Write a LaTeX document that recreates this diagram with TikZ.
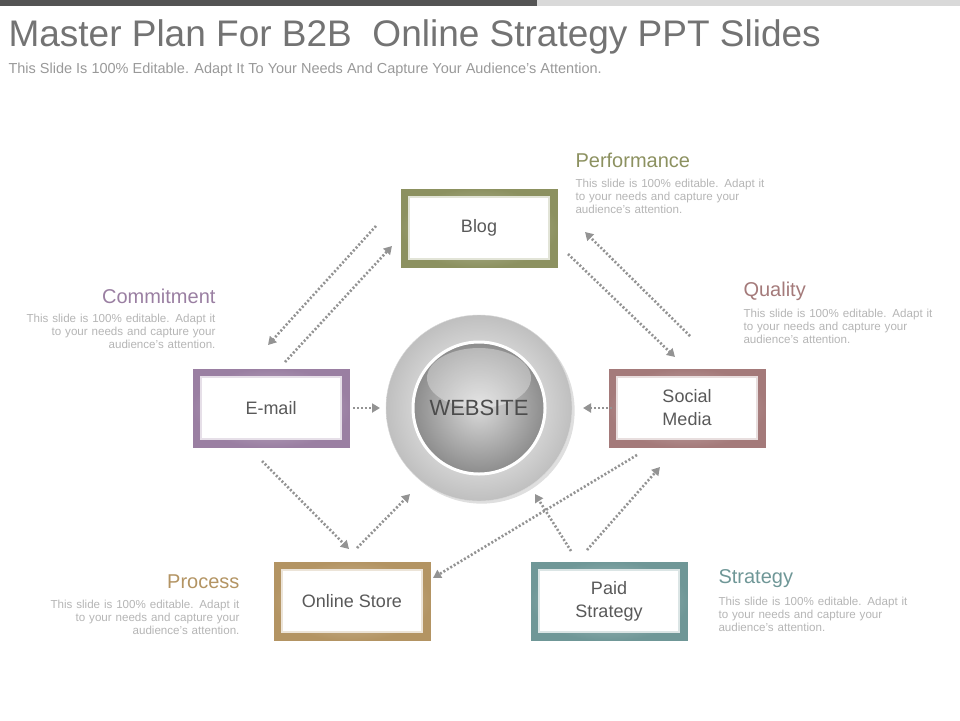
\documentclass[tikz,border=0pt]{standalone}
\usepackage{fontspec}
\setmainfont{Liberation Sans}
\usetikzlibrary{arrows.meta,shadings,shadows}
\definecolor{cBlog}{HTML}{8C9160}
\definecolor{cMail}{HTML}{9A7FA2}
\definecolor{cSoc}{HTML}{A47A7A}
\definecolor{cStore}{HTML}{B39463}
\definecolor{cPaid}{HTML}{6F9797}
\definecolor{txt}{HTML}{595959}
\definecolor{desc}{HTML}{B5B5B5}
\tikzset{
  frame/.style={minimum width=158pt,minimum height=80pt,draw=white,line width=1pt,
    inner color=#1!55,outer color=#1,drop shadow={opacity=0.2,shadow xshift=1pt,shadow yshift=-1pt}},
  inbox/.style={minimum width=140pt,minimum height=62pt,fill=white,draw=#1!25,line width=2pt,
    font=\fontsize{18}{23}\selectfont,text=txt,align=center},
  conn/.style={draw=gray!85,line width=2.6pt,dash pattern=on 2pt off 2pt,-{Triangle[length=8pt,width=9pt]}},
  head/.style={font=\fontsize{20}{23}\selectfont},
  dtext/.style={font=\fontsize{11.6}{13}\selectfont,text=desc,text width=215pt},
}
\begin{document}
\begin{tikzpicture}[x=1pt,y=-1pt]
\useasboundingbox (0,0) rectangle (960,720);
\fill[black!67] (0,0) rectangle (537,6);
\fill[black!15] (537,0) rectangle (960,6);
\node[anchor=west,text=black!55,font=\fontsize{37}{40}\selectfont] (title) at (5,37) {Master Plan For B2B\ \ Online Strategy PPT Slides};
\node[anchor=west,text=black!40,font=\fontsize{14.5}{16}\selectfont] (sub) at (5,70) {This Slide Is 100\% Editable. Adapt It To Your Needs And Capture Your Audience's Attention.};
% website
\node[circle,minimum size=186pt,inner color=white,outer color=black!25,draw=black!15,drop shadow={opacity=0.25}] (wo) at (479,408) {};
\node[circle,minimum size=132pt,inner color=black!15,outer color=black!45,draw=white,line width=3pt] (web) at (479,408) {};
\fill[white,opacity=0.35] (479,378) ellipse (52 and 30);
\node[font=\fontsize{22}{26}\selectfont,text=black!70] (wt) at (479,408) {WEBSITE};
% boxes
\node[frame=cBlog] (blog) at (479,228) {};
\node[inbox=cBlog] at (blog) {Blog};
\node[frame=cMail] (mail) at (271,408) {};
\node[inbox=cMail] at (mail) {E-mail};
\node[frame=cSoc] (soc) at (687,408) {};
\node[inbox=cSoc] at (soc) {Social\\Media};
\node[frame=cStore] (store) at (352,601) {};
\node[inbox=cStore] at (store) {Online Store};
\node[frame=cPaid] (paid) at (609,601) {};
\node[inbox=cPaid] at (paid) {Paid\\Strategy};
% connectors
\coordinate (a1) at (376,226); \coordinate (a2) at (268,345);
\coordinate (b1) at (285,362); \coordinate (b2) at (392,246);
\coordinate (c1) at (568,254); \coordinate (c2) at (675,357);
\coordinate (d1) at (690,336); \coordinate (d2) at (585,232);
\coordinate (e1) at (353,408); \coordinate (e2) at (380,408);
\coordinate (f1) at (612,408); \coordinate (f2) at (583,408);
\coordinate (g1) at (262,461); \coordinate (g2) at (349,549);
\coordinate (h1) at (357,548); \coordinate (h2) at (410,494);
\coordinate (i1) at (637,455); \coordinate (i2) at (433,578);
\coordinate (j1) at (587,550); \coordinate (j2) at (660,467);
\coordinate (k1) at (571,551); \coordinate (k2) at (535,494);
\foreach \p in {a,b,c,d,e,f,g,h,i,j,k}{\draw[conn] (\p1) -- (\p2);}
% labels
\node[head,text=cBlog,anchor=west] (lp) at (572,160) {Performance};
\node[dtext,anchor=north west,align=left] (dp) at (572,176) {This slide is 100\% editable. Adapt it\\to your needs and capture your\\audience's attention.};
\node[head,text=cSoc,anchor=west] (lq) at (740,291) {Quality};
\node[dtext,anchor=north west,align=left] (dq) at (740,306) {This slide is 100\% editable. Adapt it\\to your needs and capture your\\audience's attention.};
\node[head,text=cMail,anchor=east] (lc) at (219,296) {Commitment};
\node[dtext,anchor=north east,align=right] (dc) at (219,311) {This slide is 100\% editable. Adapt it\\to your needs and capture your\\audience's attention.};
\node[head,text=cStore,anchor=east] (lr) at (243,582) {Process};
\node[dtext,anchor=north east,align=right] (dr) at (243,597) {This slide is 100\% editable. Adapt it\\to your needs and capture your\\audience's attention.};
\node[head,text=cPaid,anchor=west] (ls) at (715,579) {Strategy};
\node[dtext,anchor=north west,align=left] (ds) at (715,594) {This slide is 100\% editable. Adapt it\\to your needs and capture your\\audience's attention.};
\end{tikzpicture}
\end{document}
